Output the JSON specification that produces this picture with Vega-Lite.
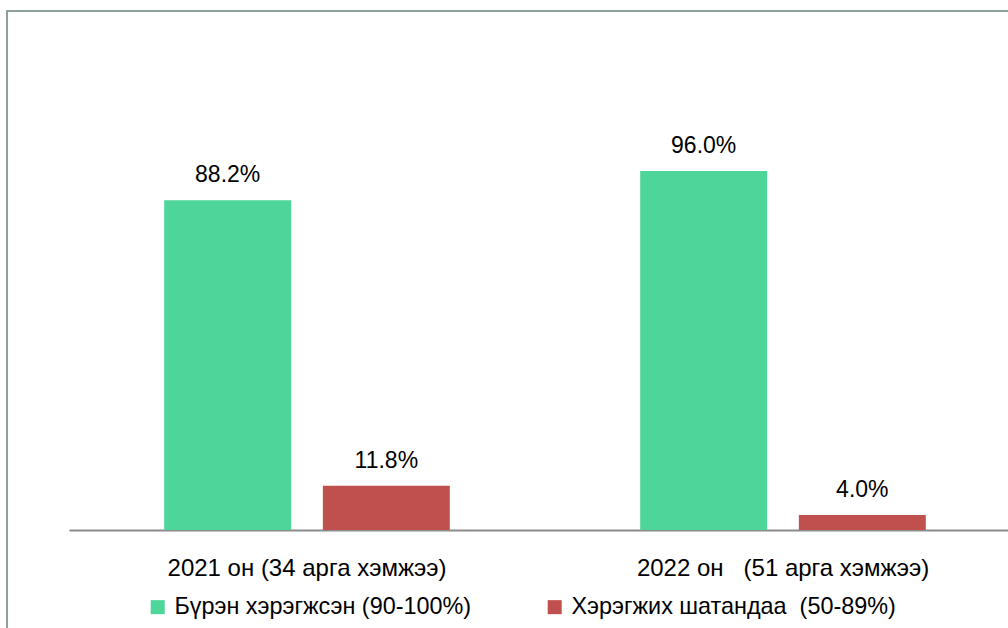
{
  "$schema": "https://vega.github.io/schema/vega-lite/v6.json",
  "width": 1002,
  "height": 618,
  "autosize": {"type": "none"},
  "padding": {"left": 7, "top": 11, "right": 0, "bottom": 0},
  "background": "white",
  "config": {
    "view": {"stroke": "#8fa097", "strokeWidth": 2, "fill": "white"},
    "font": "Liberation Sans"
  },
  "data": {
    "values": [
      {"year": "2021 он (34 арга хэмжээ)", "status": "Бүрэн хэрэгжсэн (90-100%)", "value": 0.882},
      {"year": "2021 он (34 арга хэмжээ)", "status": "Хэрэгжих шатандаа\u00a0\u00a0(50-89%)", "value": 0.118},
      {"year": "2022 он\u00a0\u00a0\u00a0(51 арга хэмжээ)", "status": "Бүрэн хэрэгжсэн (90-100%)", "value": 0.96},
      {"year": "2022 он\u00a0\u00a0\u00a0(51 арга хэмжээ)", "status": "Хэрэгжих шатандаа\u00a0\u00a0(50-89%)", "value": 0.04}
    ]
  },
  "encoding": {
    "x": {
      "field": "year",
      "type": "nominal",
      "sort": null,
      "scale": {"range": [62, 1014], "paddingInner": 0.4, "paddingOuter": 0.2},
      "axis": {
        "title": null,
        "labelAngle": 0,
        "labelFontSize": 24,
        "labelColor": "black",
        "labelPadding": 26,
        "labelLimit": 0,
        "ticks": false,
        "grid": false,
        "domainColor": "#8c8c8c",
        "domainWidth": 2,
        "offset": -99
      }
    },
    "xOffset": {
      "field": "status",
      "type": "nominal",
      "sort": null,
      "scale": {"paddingInner": 0.2, "paddingOuter": 0}
    },
    "y": {
      "field": "value",
      "type": "quantitative",
      "scale": {"domain": [-0.2647, 1.3877], "zero": false, "nice": false},
      "axis": null
    }
  },
  "layer": [
    {
      "mark": {"type": "bar"},
      "encoding": {
        "y2": {"datum": 0},
        "color": {
          "field": "status",
          "type": "nominal",
          "sort": null,
          "scale": {"range": ["#4ed59a", "#c0504d"]},
          "legend": {
            "orient": "none",
            "legendX": 139,
            "legendY": 584,
            "direction": "horizontal",
            "title": null,
            "symbolType": "square",
            "symbolSize": 196,
            "symbolStrokeWidth": 0,
            "symbolOpacity": 1,
            "labelFontSize": 23.4,
            "labelColor": "black",
            "labelOffset": 5,
            "labelLimit": 0,
            "columnPadding": 71,
            "padding": 0
          }
        }
      }
    },
    {
      "mark": {"type": "text", "dy": -18, "baseline": "alphabetic", "fontSize": 23, "color": "black"},
      "encoding": {
        "text": {"field": "value", "type": "quantitative", "format": ".1%"}
      }
    }
  ]
}
